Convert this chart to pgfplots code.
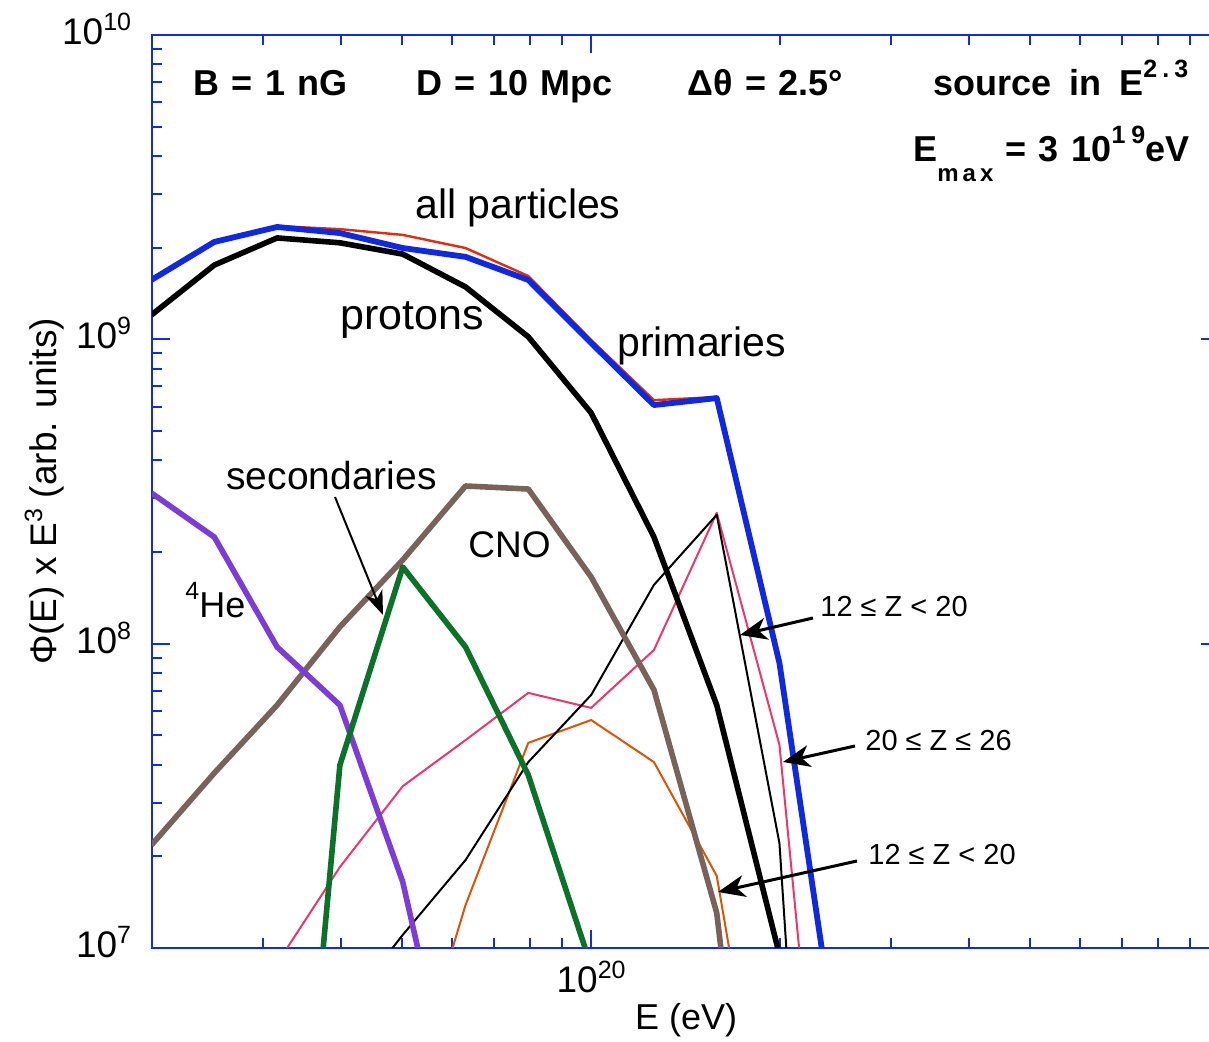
\documentclass[border=0pt]{standalone}
\usepackage{pgfplots}
\pgfplotsset{compat=1.18}
\usepackage{fontspec}
\setmainfont{Liberation Sans}
\newfontfamily\hdrfamily[WordSpace=1.25]{Liberation Sans}
\usetikzlibrary{arrows.meta}
\definecolor{axblue}{RGB}{20,45,220}
\definecolor{cblue}{RGB}{15,40,225}
\definecolor{cred}{RGB}{225,45,10}
\definecolor{cpurple}{RGB}{125,60,215}
\definecolor{cbrown}{RGB}{120,98,90}
\definecolor{cgreen}{RGB}{10,115,40}
\definecolor{cpink}{RGB}{235,55,105}
\definecolor{corange}{RGB}{220,85,5}
\newcommand{\tl}[1]{10\raisebox{7pt}{\fontsize{12.5}{12.5}\selectfont #1}}
\newcommand{\annfont}[1]{\fontsize{#1}{#1}\selectfont}
\newcommand{\zfont}{\fontsize{14.5}{14.5}\selectfont}
\newcommand{\hfont}{\hdrfamily\bfseries\fontsize{18}{18}\selectfont}

\pgfplotstableread{
x        primaries all      protons  he       cno
1.995e19 1.567e9   1.567e9  1.202e9  3.126e8  2.178e7
2.512e19 2.089e9   2.089e9  1.754e9  2.239e8  3.758e7
3.162e19 2.339e9   2.355e9  2.153e9  9.75e7   6.28e7
3.981e19 2.234e9   2.301e9  2.075e9  6.28e7   1.135e8
5.012e19 1.995e9   2.203e9  1.905e9  1.648e7  1.884e8
6.310e19 1.866e9   1.995e9  1.486e9  2.03e6   3.296e8
7.943e19 1.567e9   1.614e9  1.019e9  1e5      3.221e8
1.000e20 9.73e8    9.95e8   5.73e8   1e5      1.656e8
1.259e20 6.08e8    6.31e8   2.24e8   1e5      7.05e7
1.585e20 6.41e8    6.46e8   6.28e7   1e5      1.303e7
1.995e20 8.63e7    8.63e7   9.5e6    1e5      2.3e5
2.512e20 3.49e6    3.7e6    3.2e5    1e5      1e5
}\maintab

\pgfplotstableread{
x        sec      zhi      zmid     zlow
3.162e19 2.2e5    8.9e6    1e5      1e5
3.981e19 3.99e7   1.845e7  6.0e6    1e5
5.012e19 1.786e8  3.40e7   1.104e7  2.87e6
6.310e19 9.75e7   4.82e7   1.945e7  1.384e7
7.943e19 3.70e7   6.89e7   4.08e7   4.72e7
1.000e20 8.7e6    6.15e7   6.78e7   5.61e7
1.259e20 1e5      9.53e7   1.56e8   4.08e7
1.585e20 1e5      2.69e8   2.65e8   1.726e7
1.995e20 1e5      4.65e7   2.21e7   1.08e6
2.512e20 1e5      3.4e5    1.6e4    1e5
}\nuctab

\begin{document}
\begin{tikzpicture}
\useasboundingbox (-76pt,-47pt) rectangle (528.5pt,474pt);
\begin{axis}[
  at={(0,0)}, anchor=south west,
  scale only axis, width=533.5pt, height=456.5pt,
  xmode=log, ymode=log,
  xmin=2e19, xmax=1e21, ymin=1e7, ymax=1e10,
  xtick={1e20,1e21}, xticklabels={\tl{20},{}},
  minor xtick={2e19,3e19,4e19,5e19,6e19,7e19,8e19,9e19,2e20,3e20,4e20,5e20,6e20,7e20,8e20,9e20},
  ytick={1e7,1e8,1e9,1e10}, yticklabels={\tl{7},\tl{8},\tl{9},\tl{10}},
  minor ytick={2e7,3e7,4e7,5e7,6e7,7e7,8e7,9e7,2e8,3e8,4e8,5e8,6e8,7e8,8e8,9e8,2e9,3e9,4e9,5e9,6e9,7e9,8e9,9e9},
  tick align=inside,
  major tick length=9pt, minor tick length=5pt,
  tick style={axblue, line width=1pt},
  axis line style={axblue, line width=1pt},
  ticklabel style={font=\fontsize{18.5}{18.5}\selectfont},
  yticklabel style={xshift=-7pt, yshift=3pt},
  xticklabel style={yshift=-3pt},
  xlabel={E (eV)},
  ylabel={Φ(E) x E\raisebox{7pt}{\fontsize{12.5}{12.5}\selectfont 3} (arb. units)},
  xlabel style={at={(axis description cs:0.5005,-0.0898)}, anchor=base, font=\fontsize{18}{18}\selectfont},
  ylabel style={at={(axis description cs:-0.09,0.5)}, anchor=base, font=\fontsize{18.5}{18.5}\selectfont},
]
\addplot[corange, line width=1pt, line join=round] table[x=x, y=zlow] {\nuctab};
\addplot[cpink, line width=1pt, line join=round] table[x=x, y=zhi] {\nuctab};
\addplot[black, line width=1pt, line join=round] table[x=x, y=zmid] {\nuctab};
\addplot[cbrown, line width=2.8pt, line join=round] table[x=x, y=cno] {\maintab};
\addplot[cpurple, line width=2.8pt, line join=round] table[x=x, y=he] {\maintab};
\addplot[cgreen, line width=2.8pt, line join=round] table[x=x, y=sec] {\nuctab};
\addplot[black, line width=2.8pt, line join=round] table[x=x, y=protons] {\maintab};
\addplot[cred, line width=1.2pt, line join=round] table[x=x, y=all] {\maintab};
\addplot[cblue, line width=2.9pt, line join=round] table[x=x, y=primaries] {\maintab};
\end{axis}
\begin{scope}[x=0.5pt,y=-0.5pt,shift={(-152,-948)}]
\node[anchor=base west, inner sep=0pt, font=\hfont] at (193,96) {B = 1 nG};
\node[anchor=base west, inner sep=0pt, font=\hfont] at (416,96) {D = 10 Mpc};
\node[anchor=base west, inner sep=0pt, font=\hfont] at (687,96) {Δθ = 2.5°};
\node[anchor=base west, inner sep=0pt, font=\hfont] at (933,96) {source\hspace{9pt}in\hspace{9pt}E\raisebox{9pt}{\fontsize{12.5}{12.5}\selectfont 2\kern2.5pt.\kern2.5pt3}};
\node[anchor=base west, inner sep=0pt, font=\hfont] at (913,162) {E\raisebox{-10pt}{\fontsize{12}{12}\selectfont m\kern2pt a\kern2pt x}\hspace{6pt}= 3 10\raisebox{9pt}{\fontsize{12.5}{12.5}\selectfont 1\kern3pt9}eV};
\node[anchor=base west, inner sep=0pt, font=\annfont{20.5}] at (415,219) {all particles};
\node[anchor=base west, inner sep=0pt, font=\annfont{21.5}] at (340,330) {protons};
\node[anchor=base west, inner sep=0pt, font=\annfont{20.5}] at (617,357) {primaries};
\node[anchor=base west, inner sep=0pt, font=\annfont{19.5}] at (226,490) {secondaries};
\node[anchor=base west, inner sep=0pt, font=\annfont{18.5}] at (468,558) {CNO};
\node[anchor=base west, inner sep=0pt, font=\annfont{18}] at (185,618) {\raisebox{9pt}{\fontsize{12.5}{12.5}\selectfont 4}He};
\node[anchor=base west, inner sep=0pt, font=\zfont] at (820,617) {12 ≤ Z < 20};
\node[anchor=base west, inner sep=0pt, font=\zfont] at (865,751) {20 ≤ Z ≤ 26};
\node[anchor=base west, inner sep=0pt, font=\zfont] at (868,865) {12 ≤ Z < 20};
\draw[line width=1pt, -{Stealth[length=12pt,width=9pt,inset=3.5pt]}] (335,497) -- (383,615);
\draw[line width=1.5pt, -{Stealth[length=13.5pt,width=11pt,inset=4pt]}] (813,618) -- (740,635);
\draw[line width=1.5pt, -{Stealth[length=13.5pt,width=11pt,inset=4pt]}] (855,746) -- (783,762);
\draw[line width=1.5pt, -{Stealth[length=13.5pt,width=11pt,inset=4pt]}] (857,861) -- (718,892);
\end{scope}
\end{tikzpicture}
\end{document}
